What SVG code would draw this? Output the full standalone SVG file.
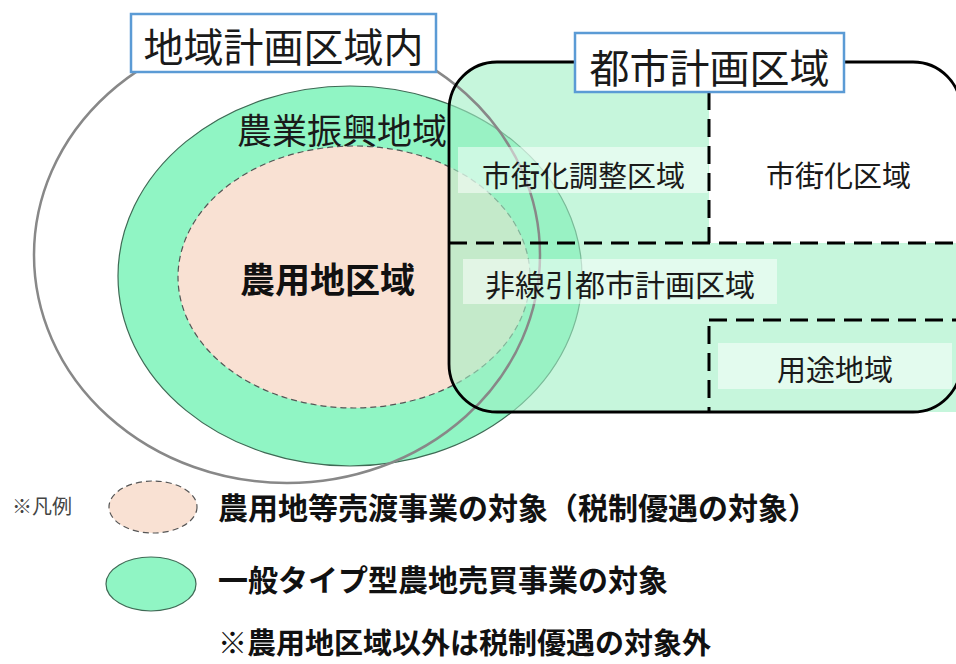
<svg xmlns="http://www.w3.org/2000/svg" width="956" height="664" viewBox="0 0 956 664">
<style>
.t{font-family:"Noto Sans CJK JP","Noto Sans CJK SC",sans-serif;fill:#1a1a1a;dominant-baseline:central}
.b{font-weight:bold;fill:#111}
.lbl{fill:#fff;stroke:#5b9bd5;stroke-width:2.5}
.bg{fill:#fff;fill-opacity:0.5}
.dash{fill:none;stroke:#000;stroke-width:3;stroke-dasharray:18 9}
.green{fill:#90f5c4;stroke:#3f6a55;stroke-width:1.2}
.peach{fill:#f9e1d3;stroke:#555;stroke-width:1.2;stroke-dasharray:6 4}
</style>
<rect width="956" height="664" fill="#fff"/>
<g id="nogyo-shinko">
<ellipse class="green" cx="350" cy="276" rx="232" ry="190"/>
<text class="t" x="237" y="128" font-size="35">農業振興地域</text>
</g>
<g id="noyochi">
<ellipse class="peach" cx="354" cy="277" rx="176" ry="131"/>
</g>
<g id="toshi-keikaku">
<path d="M497,62 H709 V243 H961 V412 H497 A48,48 0 0 1 449,364 V110 A48,48 0 0 1 497,62 Z" fill="#a0f0c5" fill-opacity="0.6"/>
</g>
<g id="chiiki-keikaku">
<ellipse cx="287" cy="255" rx="253" ry="228" fill="none" stroke="#888" stroke-width="2.5"/>
</g>
<g id="chosei">
<rect class="bg" x="458" y="147" width="250" height="46"/>
<text class="t" x="482" y="174" font-size="29">市街化調整区域</text>
</g>
<g id="shigaika">
<text class="t" x="766" y="174" font-size="29">市街化区域</text>
</g>
<g id="hisenbiki">
<rect class="bg" x="463" y="259" width="314" height="45"/>
<text class="t" x="485" y="283" font-size="30">非線引都市計画区域</text>
</g>
<g id="yoto">
<rect class="bg" x="718" y="343" width="234" height="46"/>
<text class="t" x="777" y="368" font-size="29">用途地域</text>
</g>
<g id="noyochi-label">
<text class="t b" x="240" y="277" font-size="35">農用地区域</text>
</g>
<g id="connectors">
<rect x="449" y="62" width="512" height="350" rx="48" ry="48" fill="none" stroke="#000" stroke-width="2.8"/>
<path class="dash" d="M709,92 V243"/>
<path class="dash" d="M449,243 H956"/>
<path class="dash" d="M709,320 H956"/>
<path class="dash" d="M709,326 V412"/>
</g>
<g id="label-chiiki">
<rect class="lbl" x="131" y="14" width="305" height="58"/>
<text class="t" x="283.5" y="45" font-size="40" text-anchor="middle">地域計画区域内</text>
</g>
<g id="label-toshi">
<rect class="lbl" x="575" y="33" width="269" height="59"/>
<text class="t" x="709.5" y="66" font-size="40" text-anchor="middle">都市計画区域</text>
</g>
<g id="legend">
<text class="t" x="12" y="505" font-size="20" style="fill:#444">※凡例</text>
<ellipse class="peach" cx="153" cy="507" rx="44" ry="26"/>
<text class="t b" x="218" y="506" font-size="30">農用地等売渡事業の対象（税制優遇の対象）</text>
<ellipse class="green" cx="151" cy="584" rx="45" ry="27"/>
<text class="t b" x="218" y="578" font-size="30">一般タイプ型農地売買事業の対象</text>
<text class="t b" x="218" y="641" font-size="29">※農用地区域以外は税制優遇の対象外</text>
</g>
</svg>
